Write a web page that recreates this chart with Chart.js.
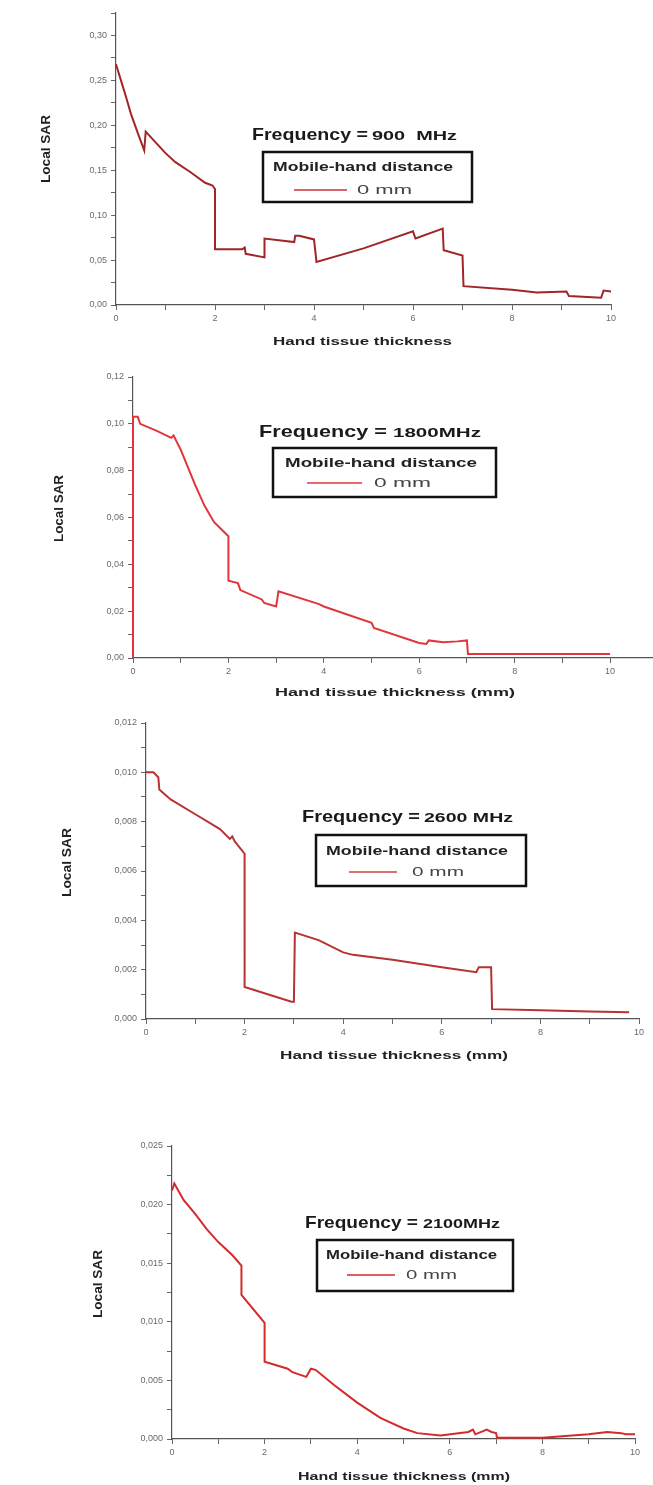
<!DOCTYPE html>
<html>
<head>
<meta charset="utf-8">
<script src="https://cdn.jsdelivr.net/npm/chart.js@4/dist/chart.umd.min.js"></script>
<style>
  html, body { margin: 0; padding: 0; background: #fff; }
  body { width: 653px; height: 1485px; position: relative; overflow: hidden; }
  .panel { position: absolute; left: 0; width: 653px; }
</style>
</head>
<body>
<div class="panel" style="top:0px;height:350px"><canvas id="c900" width="653" height="350"></canvas></div>
<div class="panel" style="top:350px;height:350px"><canvas id="c1800" width="653" height="350"></canvas></div>
<div class="panel" style="top:700px;height:365px"><canvas id="c2600" width="653" height="365"></canvas></div>
<div class="panel" style="top:1065px;height:420px"><canvas id="c2100" width="653" height="420"></canvas></div>
<script>
// Local SAR vs hand tissue thickness (mm)
const thick900 = [0, 0.1, 0.2, 0.3, 0.45, 0.57, 0.6, 0.8, 1.0, 1.2, 1.5, 1.8, 1.95, 2.0, 2.0, 2.55, 2.6, 2.62, 3.0, 3.0, 3.6, 3.62, 3.7, 4.0, 4.05, 5.0, 6.0, 6.05, 6.6, 6.62, 7.0, 7.02, 8.0, 8.5, 9.1, 9.15, 9.8, 9.85, 10.0];
const sar900 = [0.268, 0.25, 0.232, 0.213, 0.19, 0.172, 0.193, 0.181, 0.169, 0.159, 0.148, 0.136, 0.133, 0.129, 0.062, 0.062, 0.064, 0.057, 0.053, 0.074, 0.070, 0.077, 0.077, 0.073, 0.048, 0.063, 0.082, 0.074, 0.085, 0.061, 0.055, 0.021, 0.017, 0.014, 0.015, 0.010, 0.008, 0.016, 0.015];

const thick1800 = [0, 0, 0.1, 0.15, 0.5, 0.8, 0.85, 1.0, 1.3, 1.5, 1.7, 1.75, 2.0, 2.0, 2.2, 2.25, 2.7, 2.75, 3.0, 3.05, 3.9, 4.0, 5.0, 5.05, 6.0, 6.15, 6.2, 6.5, 6.8, 7.0, 7.02, 10.0];
const sar1800 = [0, 0.103, 0.103, 0.100, 0.097, 0.094, 0.095, 0.089, 0.074, 0.065, 0.058, 0.057, 0.052, 0.033, 0.032, 0.029, 0.025, 0.0235, 0.022, 0.0285, 0.023, 0.022, 0.015, 0.0128, 0.0064, 0.006, 0.0075, 0.0067, 0.0071, 0.0075, 0.0017, 0.0017];

const thick2600 = [0, 0.15, 0.25, 0.27, 0.5, 1.0, 1.5, 1.7, 1.75, 1.8, 2.0, 2.0, 2.95, 3.0, 3.02, 3.5, 4.0, 4.2, 5.0, 6.0, 6.7, 6.75, 7.0, 7.02, 8.0, 9.0, 9.8];
const sar2600 = [0.0100, 0.0100, 0.0098, 0.0093, 0.0089, 0.0083, 0.0077, 0.0073, 0.0074, 0.0072, 0.0067, 0.0013, 0.0007, 0.0007, 0.0035, 0.0032, 0.0027, 0.0026, 0.0024, 0.0021, 0.0019, 0.0021, 0.0021, 0.0004, 0.00035, 0.0003, 0.00027];

const thick2100 = [0, 0.05, 0.25, 0.5, 0.75, 1.0, 1.3, 1.5, 1.5, 2.0, 2.0, 2.5, 2.6, 2.9, 3.0, 3.1, 3.5, 4.0, 4.5, 5.0, 5.3, 5.8, 6.4, 6.5, 6.55, 6.8, 6.9, 7.0, 7.02, 8.0, 9.0, 9.4, 9.7, 9.8, 10.0];
const sar2100 = [0.0212, 0.0218, 0.0204, 0.0192, 0.0179, 0.0168, 0.0157, 0.0148, 0.0123, 0.0099, 0.0066, 0.0060, 0.0057, 0.0053, 0.0060, 0.0059, 0.0046, 0.0031, 0.0018, 0.0009, 0.0005, 0.0003, 0.0006, 0.0008, 0.0004, 0.0008, 0.0006, 0.0005, 0.0001, 0.0001, 0.0004, 0.0006, 0.0005, 0.0004, 0.0004];

const freqLabels = ['900  MHz', '1800MHz', '2600 MHz', '2100MHz'];
const xTitles = ['Hand tissue thickness', 'Hand tissue thickness (mm)', 'Hand tissue thickness (mm)', 'Hand tissue thickness (mm)'];
const legendHead = 'Mobile-hand distance';
const legendItem = '0 mm';

const FONT = "'Liberation Sans', Arial, sans-serif";

// draw text squeezed/stretched to fit between x0 and x1
function fitText(ctx, text, font, x0, x1, y, color) {
  ctx.save();
  ctx.font = font;
  ctx.fillStyle = color;
  ctx.textBaseline = 'middle';
  ctx.textAlign = 'left';
  const w = ctx.measureText(text).width;
  ctx.translate(x0, y);
  ctx.scale((x1 - x0) / w, 1);
  ctx.fillText(text, 0, 0);
  ctx.restore();
}

const notePlugin = {
  id: 'note',
  afterDraw(chart, args, o) {
    const ctx = chart.ctx;
    fitText(ctx, 'Frequency =', 'bold 17px ' + FONT, o.freqA[0], o.freqA[1], o.freqY, '#1a1a1a');
    fitText(ctx, o.freqText, 'bold 13px ' + FONT, o.freqB[0], o.freqB[1], o.freqY + 1, '#1a1a1a');
    ctx.save();
    ctx.strokeStyle = '#111';
    ctx.lineWidth = 2.5;
    ctx.strokeRect(o.box[0], o.box[1], o.box[2] - o.box[0], o.box[3] - o.box[1]);
    ctx.strokeStyle = o.color;
    ctx.lineWidth = 1.5;
    ctx.beginPath();
    ctx.moveTo(o.sample[0], o.sample[2]);
    ctx.lineTo(o.sample[1], o.sample[2]);
    ctx.stroke();
    ctx.restore();
    fitText(ctx, legendHead, 'bold 12px ' + FONT, o.head[0], o.head[1], o.head[2], '#222');
    fitText(ctx, legendItem, '13px ' + FONT, o.mm[0], o.mm[1], o.mm[2], '#444');
    fitText(ctx, o.xTitle, 'bold 10px ' + FONT, o.xt[0], o.xt[1], o.xt[2], '#222');
    // rotated y title
    ctx.save();
    ctx.translate(o.yt[0], o.yt[2]);
    ctx.rotate(-Math.PI / 2);
    fitText(ctx, 'Local SAR', 'bold 13px ' + FONT, 0, o.yt[2] - o.yt[1], 0, '#222');
    ctx.restore();
  }
};

function makeChart(id, xs, ys, opt) {
  const pts = xs.map((x, i) => ({ x: x, y: ys[i] }));
  const fmt = v => v.toFixed(opt.dec).replace('.', ',');
  const near = (v, step) => Math.abs(v / step - Math.round(v / step)) < 1e-6;
  return new Chart(document.getElementById(id), {
    type: 'line',
    data: {
      datasets: [{
        label: legendItem,
        data: pts,
        borderColor: opt.color,
        borderWidth: 2,
        pointRadius: 0,
        tension: 0,
        fill: false,
        clip: false
      }]
    },
    options: {
      responsive: false,
      animation: false,
      events: [],
      layout: { padding: { top: opt.area.top, right: 653 - opt.area.right, bottom: 0, left: 0 } },
      plugins: {
        legend: { display: false },
        tooltip: { enabled: false },
        note: opt.note
      },
      scales: {
        x: {
          type: 'linear',
          min: 0,
          max: opt.xMax,
          offset: false,
          afterBuildTicks: s => {
            const t = [];
            for (let v = 0; v <= opt.xMax + 1e-9; v += 1) t.push({ value: v });
            s.ticks = t;
          },
          afterFit: s => { s.height = opt.h - opt.area.bottom; },
          ticks: {
            autoSkip: false,
            maxRotation: 0,
            padding: 3,
            color: '#6a6a6a',
            font: { family: FONT, size: 9 },
            callback: v => (near(v, 2) ? String(v) : '')
          },
          grid: { drawOnChartArea: false, tickLength: 5, tickColor: '#666', tickWidth: 1 },
          border: { color: '#555', width: 1.2, z: -1 },
          title: { display: false }
        },
        y: {
          type: 'linear',
          min: 0,
          max: opt.yMax,
          afterBuildTicks: s => {
            const t = [];
            const n = Math.round(opt.yMax / opt.minor);
            for (let i = 0; i <= n; i++) t.push({ value: i * opt.minor });
            s.ticks = t;
          },
          afterFit: s => { s.width = opt.area.left; },
          ticks: {
            autoSkip: false,
            padding: 4,
            color: '#6a6a6a',
            font: { family: FONT, size: 9 },
            callback: v => (near(v, opt.major) && (v <= opt.yMax - opt.minor / 2 + 1e-12 || near(opt.yMax, opt.major)) ? fmt(v) : '')
          },
          grid: { drawOnChartArea: false, tickLength: 5, tickColor: '#666', tickWidth: 1 },
          border: { color: '#555', width: 1.2, z: -1 },
          title: { display: false }
        }
      }
    },
    plugins: [notePlugin]
  });
}

makeChart('c900', thick900, sar900, {
  h: 350, area: { left: 116, right: 611, top: 13, bottom: 305 },
  xMax: 10, yMax: 0.325, major: 0.05, minor: 0.025, dec: 2, color: '#a02628',
  note: {
    color: '#c8303a', freqText: freqLabels[0], freqA: [252, 368], freqB: [372, 457], freqY: 135,
    box: [263, 152, 472, 202], head: [273, 453, 168], sample: [294, 347, 190], mm: [357, 412, 190],
    xTitle: xTitles[0], xt: [273, 452, 342], yt: [46, 115, 183]
  }
});

makeChart('c1800', thick1800, sar1800, {
  h: 350, area: { left: 133, right: 653, top: 27, bottom: 308 },
  xMax: 10.9, yMax: 0.12, major: 0.02, minor: 0.01, dec: 2, color: '#e0363b',
  note: {
    color: '#e0363b', freqText: freqLabels[1], freqA: [259, 387], freqB: [393, 481], freqY: 82,
    box: [273, 98, 496, 147], head: [285, 477, 114], sample: [307, 362, 133], mm: [374, 431, 133],
    xTitle: xTitles[1], xt: [275, 515, 343], yt: [59, 125, 192]
  }
});

makeChart('c2600', thick2600, sar2600, {
  h: 365, area: { left: 146, right: 639, top: 23, bottom: 319 },
  xMax: 10, yMax: 0.012, major: 0.002, minor: 0.001, dec: 3, color: '#b83232',
  note: {
    color: '#d0403e', freqText: freqLabels[2], freqA: [302, 420], freqB: [424, 513], freqY: 117,
    box: [316, 135, 526, 186], head: [326, 508, 152], sample: [349, 397, 172], mm: [412, 464, 172],
    xTitle: xTitles[2], xt: [280, 508, 356], yt: [67, 128, 197]
  }
});

makeChart('c2100', thick2100, sar2100, {
  h: 420, area: { left: 172, right: 635, top: 81, bottom: 374 },
  xMax: 10, yMax: 0.025, major: 0.005, minor: 0.0025, dec: 3, color: '#d42a2c',
  note: {
    color: '#d42a2c', freqText: freqLabels[3], freqA: [305, 418], freqB: [423, 500], freqY: 158,
    box: [317, 175, 513, 226], head: [326, 497, 191], sample: [347, 395, 210], mm: [406, 457, 210],
    xTitle: xTitles[3], xt: [298, 510, 412], yt: [98, 185, 253]
  }
});
</script>
</body>
</html>
